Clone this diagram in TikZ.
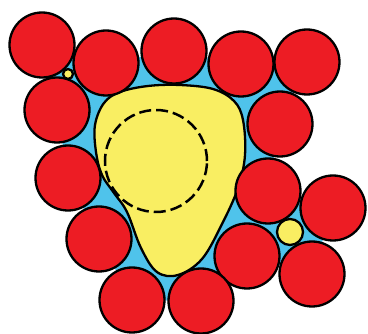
\documentclass[tikz,border=0pt]{standalone}
\usepackage{tikz}
\usetikzlibrary{backgrounds}
\definecolor{ballred}{HTML}{ED1C24}
\definecolor{gapblue}{HTML}{4FC3EB}
\definecolor{coreyellow}{HTML}{F9EE62}
\tikzset{
  ball/.style={circle, draw=black, line width=2.3pt, fill=ballred,
               minimum size=65pt, inner sep=0pt},
  pebble/.style={circle, draw=black, line width=2.3pt, fill=coreyellow, inner sep=0pt},
  hole/.style={circle, draw=black, line width=2.5pt, dash pattern=on 12pt off 5pt,
               minimum size=102pt, inner sep=0pt},
  blob/.style={draw=black, line width=2.3pt, fill=coreyellow}
}
\begin{document}
\begin{tikzpicture}[x=1pt, y=-1pt]
  \useasboundingbox (0,0) rectangle (368,334);
  % red packing, clockwise from top left
  \foreach \n/\x/\y in {b1/42/45, b2/106/63, b3/174/51, b4/241/64, b5/307/62,
                        b6/280/124, b7/268/191, b8/333/208, b9/312/274, b10/247/256,
                        b11/201/301, b12/132/300, b13/99/239, b14/68/178, b15/57/110}
    \node[ball] (\n) at (\x,\y) {};
  \begin{scope}[on background layer]
    \fill[gapblue] (b1.center) -- (b2.center) -- (b3.center) -- (b4.center) -- (b5.center)
      -- (b6.center) -- (b7.center) -- (b8.center) -- (b9.center) -- (b10.center)
      -- (b11.center) -- (b12.center) -- (b13.center) -- (b14.center) -- (b15.center) -- cycle;
    % yellow core
    \draw[blob] plot[smooth cycle, tension=0.6] coordinates {
      (95,125) (104,103) (120,92) (148,86) (180,85) (213,89) (234,101) (243,120)
      (245,155) (238,188) (222,224) (202,259) (178,275) (157,272) (141,248)
      (127,212) (114,193) (102,175) (96,152)};
  \end{scope}
  \node[hole] (dash) at (156,161) {};
  \node[pebble, minimum size=10pt] (p1) at (68,74) {};
  \node[pebble, minimum size=26pt] (p2) at (290,232) {};
\end{tikzpicture}
\end{document}
